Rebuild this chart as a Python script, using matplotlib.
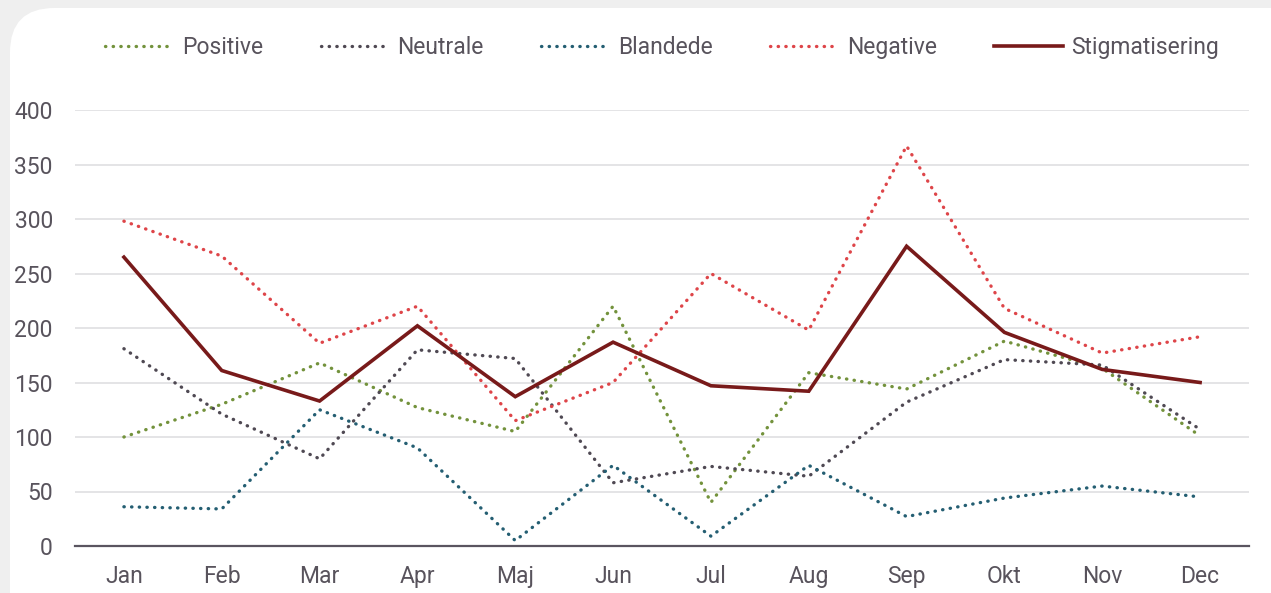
"""Monthly article tone vs stigmatisation, line chart."""

import matplotlib

matplotlib.use("Agg")
import matplotlib.pyplot as plt
from matplotlib.patches import FancyBboxPatch

plt.rcParams["font.family"] = ["Roboto", "DejaVu Sans"]

months = ["Jan", "Feb", "Mar", "Apr", "Maj", "Jun", "Jul", "Aug", "Sep", "Okt", "Nov", "Dec"]
positive = [100, 130, 168, 127, 105, 220, 40, 159, 144, 188, 163, 101]
neutrale = [181, 121, 80, 180, 172, 58, 73, 64, 132, 171, 166, 107]
blandede = [36, 34, 125, 90, 5, 74, 9, 74, 27, 44, 55, 45]
negative = [298, 266, 186, 220, 115, 150, 250, 198, 367, 218, 177, 192]
stigmatisering = [265, 161, 133, 202, 137, 187, 147, 142, 275, 196, 162, 150]

TEXT = "#58535c"

fig = plt.figure(figsize=(12.71, 5.93), dpi=100, facecolor="#efefef")
card = FancyBboxPatch((10 / 1271, -0.1), 1.2, 1.1 - 8 / 593,
                      boxstyle="round,pad=0,rounding_size=0.035",
                      transform=fig.transFigure, facecolor="white",
                      edgecolor="none", mutation_aspect=1271 / 593, zorder=-1)
fig.patches.append(card)

ax = fig.add_axes([75 / 1271, 47 / 593, 1174 / 1271, 436 / 593])
ax.set_facecolor("none")

x = list(range(len(months)))
dotted = dict(lw=2.4, linestyle=(0, (0.1, 2.2)), dash_capstyle="round")
ax.plot(x, positive, color="#73923c", label="Positive", **dotted)
ax.plot(x, neutrale, color="#4f4953", label="Neutrale", **dotted)
ax.plot(x, blandede, color="#245e72", label="Blandede", **dotted)
ax.plot(x, negative, color="#de4549", label="Negative", **dotted)
ax.plot(x, stigmatisering, color="#781a1a", lw=2.6, label="Stigmatisering",
        solid_joinstyle="miter")

ax.set_xlim(-0.5, 11.5)
ax.set_ylim(0, 400)
ax.set_yticks(range(0, 401, 50))
ax.set_xticks(x)
ax.set_xticklabels(months)
ax.grid(axis="y", color="#dcdcdf", lw=1.1)
ax.set_axisbelow(True)
for side in ["top", "right", "left"]:
    ax.spines[side].set_visible(False)
ax.spines["bottom"].set_color("#5a5560")
ax.spines["bottom"].set_linewidth(1.6)
ax.spines["bottom"].set_zorder(1)
ax.tick_params(axis="both", length=0, labelsize=16.5, colors=TEXT)
ax.tick_params(axis="y", pad=16)
ax.tick_params(axis="x", pad=14)

ax.legend(loc="lower center", bbox_to_anchor=(0.5, 1.07), ncol=5, frameon=False,
          fontsize=16.5, labelcolor=TEXT, handlelength=3.0, handletextpad=0.35,
          columnspacing=2.5)

fig.savefig("out.png", dpi=100, facecolor=fig.get_facecolor())
